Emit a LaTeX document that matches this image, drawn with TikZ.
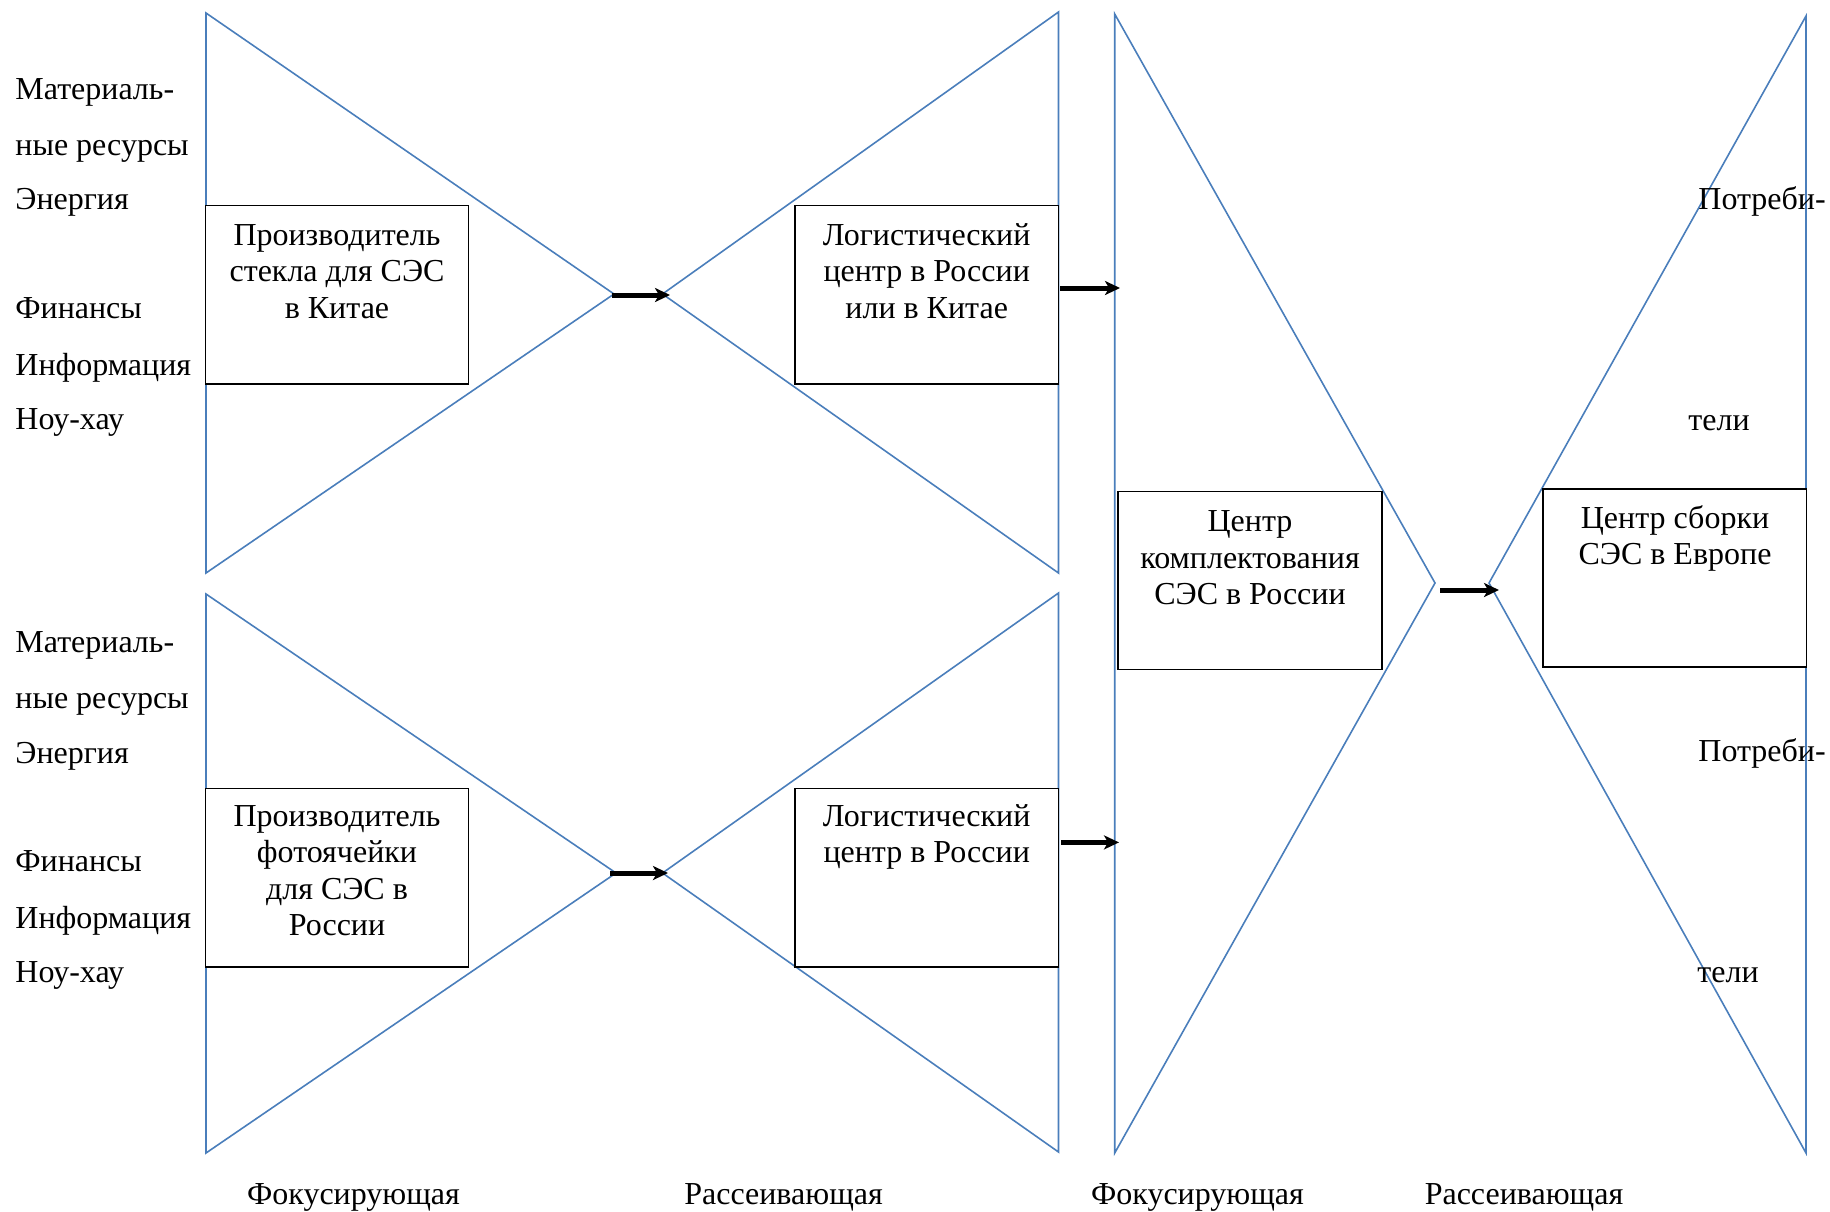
\documentclass[tikz,border=0pt]{standalone}
\usepackage{fontspec}
\setmainfont{Liberation Serif}
\usetikzlibrary{arrows.meta,fit}
\definecolor{funnel}{RGB}{74,126,187}
\begin{document}
\begin{tikzpicture}[x=0.5pt,y=-0.5pt,
  bline/.style={draw=funnel,line width=0.8pt,line join=miter},
  boxst/.style={draw=black,line width=0.65pt,fill=white,inner sep=0pt},
  boxtxt/.style={align=center,inner sep=0pt,anchor=north,
    font=\fontsize{16}{18.25}\selectfont},
  lbl/.style={inner sep=0pt,anchor=base west,font=\fontsize{16}{18}\selectfont},
  captxt/.style={inner sep=0pt,anchor=base,font=\fontsize{16}{18}\selectfont},
  arr/.style={line width=2.5pt,-{Stealth[length=7.5pt,width=7pt,inset=2pt]}}]
\useasboundingbox (0,0) rectangle (1830,1211);

% funnels: focusing (left-pointing apex) and scattering parts
\draw[bline] (206,13) -- (614,294) -- (206,573) -- cycle;
\draw[bline] (1058.5,12) -- (662.5,294) -- (1058.5,573) -- cycle;
\draw[bline] (206,594) -- (616,873) -- (206,1153) -- cycle;
\draw[bline] (1058.5,593) -- (662.5,873) -- (1058.5,1152) -- cycle;
\draw[bline] (1114.7,14) -- (1435,583) -- (1114.7,1153) -- cycle;
\draw[bline] (1806,16) -- (1489,583) -- (1806,1153) -- cycle;

% boxes
\node[boxst,fit={(205.4,205.5) (468.75,384)}] (b1) {};
\node[boxst,fit={(795,205.5) (1058.5,384)}] (b2) {};
\node[boxst,fit={(205.4,788.4) (468.75,967)}] (b3) {};
\node[boxst,fit={(795,788.4) (1058.5,967)}] (b4) {};
\node[boxst,fit={(1118,491.5) (1382,669.3)}] (b5) {};
\node[boxst,fit={(1543,489) (1806.5,667)}] (b6) {};

% box texts
\node[boxtxt] (t1) at (337,219.5) {\strut Производитель\\стекла для СЭС\\в Китае};
\node[boxtxt] (t2) at (926.7,219.5) {\strut Логистический\\центр в России\\или в Китае};
\node[boxtxt] (t3) at (337,800.5) {\strut Производитель\\фотоячейки\\для СЭС в\\России};
\node[boxtxt] (t4) at (926.7,800.5) {\strut Логистический\\центр в России};
\node[boxtxt] (t5) at (1250,506) {\strut Центр\\комплектования\\СЭС в России};
\node[boxtxt] (t6) at (1675,502.5) {\strut Центр сборки\\СЭС в Европе};

% resources on the input side
\node[lbl] (r1) at (15,99.5) {Материаль-};
\node[lbl] (r2) at (15,155) {ные ресурсы};
\node[lbl] (r3) at (15,209.7) {Энергия};
\node[lbl] (r4) at (15,318.8) {Финансы};
\node[lbl] (r5) at (15,375) {Информация};
\node[lbl] (r6) at (15,429.4) {Ноу-хау};
\node[lbl] (s1) at (15,652.4) {Материаль-};
\node[lbl] (s2) at (15,708) {ные ресурсы};
\node[lbl] (s3) at (15,763) {Энергия};
\node[lbl] (s4) at (15,871.7) {Финансы};
\node[lbl] (s5) at (15,928) {Информация};
\node[lbl] (s6) at (15,982.4) {Ноу-хау};

% consumers on the output side
\node[lbl] (c1) at (1698,209.6) {Потреби-};
\node[lbl] (c2) at (1688,430) {тели};
\node[lbl] (c3) at (1698,761) {Потреби-};
\node[lbl] (c4) at (1697,982.4) {тели};

% funnel captions
\node[captxt] (f1) at (353.5,1204) {Фокусирующая};
\node[captxt] (f2) at (783.6,1204) {Рассеивающая};
\node[captxt] (f3) at (1197.5,1204) {Фокусирующая};
\node[captxt] (f4) at (1524,1204) {Рассеивающая};

% flow arrows
\coordinate (p1) at (612,295);
\coordinate (q1) at (670,295);
\coordinate (p2) at (1060,288);
\coordinate (q2) at (1120,288);
\coordinate (p3) at (610,873);
\coordinate (q3) at (668,873);
\coordinate (p4) at (1061,842.4);
\coordinate (q4) at (1119,842.4);
\coordinate (p5) at (1440,590);
\coordinate (q5) at (1499,590);
\draw[arr] (p1) -- (q1);
\draw[arr] (p2) -- (q2);
\draw[arr] (p3) -- (q3);
\draw[arr] (p4) -- (q4);
\draw[arr] (p5) -- (q5);
\end{tikzpicture}
\end{document}
